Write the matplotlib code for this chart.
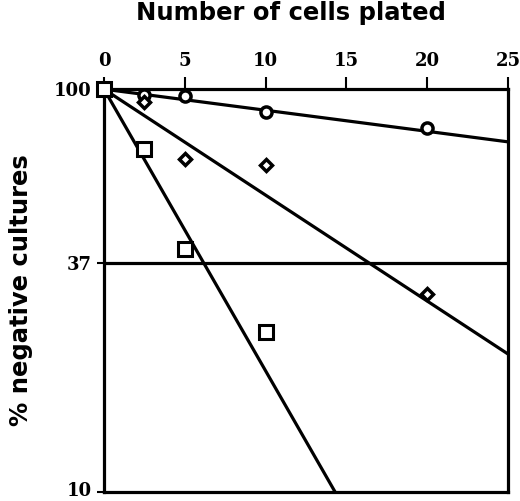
import numpy as np
import matplotlib
matplotlib.use("Agg")
import matplotlib.pyplot as plt
from matplotlib.transforms import ScaledTranslation

# data
circ_x = [0, 2.5, 5, 10, 20]
circ_y = [100, 97, 96, 88, 80]
diam_x = [0, 2.5, 5, 10, 20]
diam_y = [100, 93, 67, 65, 31]
sq_x = [0, 2.5, 5, 10]
sq_y = [100, 71, 40, 25]

# fitted lines (start / end)
fit_circ_x = [0, 25]
fit_circ_y = [100, 74]
fit_diam_x = [0, 25]
fit_diam_y = [100, 22]
fit_sq_x = [0, 14.3]
fit_sq_y = [100, 10]

ref_level = 37
x_ticks = [0, 5, 10, 15, 20, 25]
y_ticks = [10, 37, 100]

fig = plt.figure(figsize=(5.2, 5.01), dpi=100)
ax = fig.add_axes([0.2, 0.018, 0.777, 0.804])
ax.set_yscale("log")
ax.set_xlim(0, 25)
ax.set_ylim(10, 100)

lw = 2.3
for fx, fy in [(fit_circ_x, fit_circ_y), (fit_diam_x, fit_diam_y), (fit_sq_x, fit_sq_y)]:
    ax.plot(fx, fy, color="black", lw=lw, solid_capstyle="butt")
ax.plot([0, 25], [ref_level, ref_level], color="black", lw=lw)

ax.plot(circ_x, circ_y, "o", ms=8, mfc="white", mec="black", mew=2.5, clip_on=False, zorder=5)
ax.plot(diam_x, diam_y, "D", ms=6.5, mfc="white", mec="black", mew=2.5, clip_on=False, zorder=5)
ax.plot(sq_x, sq_y, "s", ms=10, mfc="white", mec="black", mew=2.2, clip_on=False, zorder=5)

for s in ax.spines.values():
    s.set_linewidth(2.3)

ax.xaxis.tick_top()
ax.set_xticks(x_ticks)
ax.set_xticklabels([str(t) for t in x_ticks], fontfamily="DejaVu Serif", fontweight="bold", fontsize=13)
ax.set_yticks(y_ticks)
ax.set_yticklabels([str(t) for t in y_ticks], fontfamily="DejaVu Serif", fontweight="bold", fontsize=13)
ax.yaxis.set_minor_locator(matplotlib.ticker.NullLocator())
ax.tick_params(axis="x", direction="out", length=9, width=1.5, pad=5)
ax.tick_params(axis="y", direction="out", length=5, width=1.5, pad=4)

# nudge the bottom label up so it stays inside the picture
bottom_lbl = ax.get_yticklabels()[0]
bottom_lbl.set_transform(bottom_lbl.get_transform() + ScaledTranslation(0, 2.5 / 72, fig.dpi_scale_trans))

fig.text(0.56, 0.974, "Number of cells plated", ha="center", va="center",
         fontsize=17.5, fontweight="bold")
fig.text(0.04, 0.42, "% negative cultures", ha="center", va="center", rotation=90,
         fontsize=17.5, fontweight="bold")

fig.savefig("out.png", dpi=100)
